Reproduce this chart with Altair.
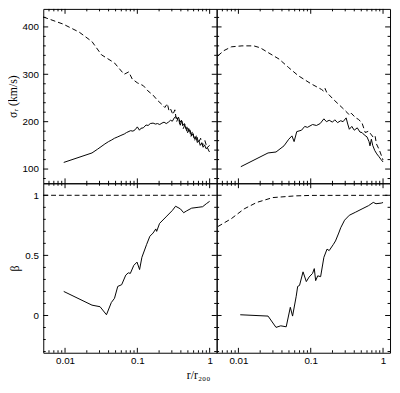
import altair as alt
import pandas as pd

# ---------------- data ----------------
# top-left panel: sigma_r
tl_solid_r = [0.0096, 0.0236, 0.0282, 0.0356, 0.040, 0.0437, 0.0483, 0.0537, 0.0593, 0.066, 0.0708,
              0.0807, 0.087, 0.0933, 0.100, 0.107, 0.112, 0.121, 0.132, 0.141, 0.151, 0.165, 0.178,
              0.190, 0.204, 0.219, 0.234, 0.251, 0.269, 0.288, 0.305, 0.324, 0.338, 0.355, 0.372,
              0.389, 0.407, 0.427, 0.447, 0.468, 0.490, 0.513, 0.537, 0.562, 0.589, 0.617, 0.646,
              0.676, 0.708, 0.741, 0.776, 0.813, 0.851, 0.891, 0.933, 0.977, 1.0]
tl_solid_s = [114, 134, 142, 153, 158, 161, 165, 168, 171, 174, 177,
              181, 180, 183, 189, 182, 186, 187, 193, 192, 196, 197, 195,
              196, 194, 197, 199, 196, 199, 203, 201, 208, 211, 206, 209,
              199, 203, 192, 196, 185, 188, 179, 182, 170, 174, 164, 168,
              156, 160, 150, 155, 146, 151, 143, 145, 138, 136]
tl_dash_r = [0.005, 0.0094, 0.0157, 0.0236, 0.032, 0.0483, 0.0656, 0.076, 0.085, 0.100, 0.121, 0.140,
             0.165, 0.190, 0.224, 0.240, 0.260, 0.275, 0.290, 0.310, 0.330, 0.350, 0.370, 0.390,
             0.410, 0.430, 0.460, 0.490, 0.520, 0.550, 0.580, 0.620, 0.660, 0.700, 0.750, 0.800,
             0.860, 0.920, 1.0]
tl_dash_s = [421, 406, 389, 369, 341, 324, 300, 305, 290, 282, 276, 265,
             256, 245, 235, 230, 238, 222, 226, 215, 225, 200, 210, 190,
             205, 185, 195, 175, 188, 168, 180, 160, 172, 155, 165, 150,
             160, 145, 150]

# top-right panel: sigma_r
tr_solid_r = [0.0108, 0.0257, 0.0331, 0.0427, 0.0497, 0.055, 0.0589, 0.0641, 0.0746, 0.0826, 0.090,
              0.106, 0.120, 0.135, 0.152, 0.165, 0.180, 0.200, 0.215, 0.235, 0.260, 0.280, 0.309,
              0.325, 0.342, 0.370, 0.400, 0.440, 0.480, 0.513, 0.550, 0.600, 0.640, 0.660, 0.690,
              0.720, 0.769, 0.820, 0.880, 0.940, 1.0]
tr_solid_s = [105, 134, 136, 149, 163, 170, 158, 179, 182, 190, 188,
              194, 192, 196, 206, 200, 203, 199, 204, 198, 202, 200, 208,
              195, 184, 190, 182, 187, 178, 177, 172, 168, 158, 149, 163,
              150, 139, 132, 126, 120, 115]
tr_dash_r = [0.0052, 0.0063, 0.008, 0.0112, 0.0163, 0.020, 0.0244, 0.0366, 0.0497, 0.0673, 0.101,
             0.141, 0.152, 0.158, 0.166, 0.206, 0.279, 0.316, 0.342, 0.363, 0.419, 0.457, 0.513,
             0.568, 0.631, 0.692, 0.733, 0.776, 0.811, 0.891, 1.0]
tr_dash_s = [339, 350, 358, 360, 360, 356, 348, 332, 314, 297, 280,
             268, 264, 270, 262, 247, 228, 220, 214, 218, 208, 205, 197,
             177, 180, 172, 167, 170, 153, 140, 119]

# bottom-left panel: beta
bl_solid_r = [0.0096, 0.0236, 0.0305, 0.0374, 0.0437, 0.0483, 0.0536, 0.0607, 0.0692, 0.075, 0.080,
              0.0893, 0.099, 0.1074, 0.1156, 0.1346, 0.149, 0.165, 0.180, 0.185, 0.203, 0.249,
              0.305, 0.338, 0.394, 0.437, 0.480, 0.564, 0.692, 0.800, 0.900, 1.0]
bl_solid_b = [0.20, 0.086, 0.073, 0.006, 0.108, 0.143, 0.242, 0.256, 0.336, 0.355, 0.35,
              0.417, 0.444, 0.382, 0.484, 0.592, 0.659, 0.686, 0.72, 0.70, 0.766, 0.82,
              0.874, 0.909, 0.887, 0.855, 0.87, 0.893, 0.90, 0.905, 0.93, 0.95]
bl_dash_r = [0.005, 1.0]
bl_dash_b = [1.0, 1.0]

# bottom-right panel: beta
br_solid_r = [0.0106, 0.0257, 0.0331, 0.0385, 0.0458, 0.0522, 0.0561, 0.063, 0.066, 0.070, 0.0783,
              0.0869, 0.095, 0.106, 0.112, 0.117, 0.125, 0.137, 0.152, 0.168, 0.180, 0.206, 0.220,
              0.244, 0.260, 0.294, 0.342, 0.419, 0.513, 0.631, 0.733, 0.800, 0.944, 1.0]
br_solid_b = [0.006, -0.005, -0.099, -0.086, -0.094, 0.068, -0.005, 0.16, 0.242, 0.25, 0.363,
              0.282, 0.32, 0.35, 0.39, 0.29, 0.33, 0.323, 0.484, 0.552, 0.54, 0.592, 0.62,
              0.686, 0.73, 0.793, 0.834, 0.86, 0.887, 0.914, 0.941, 0.93, 0.935, 0.94]
br_dash_r = [0.0052, 0.008, 0.012, 0.018, 0.0299, 0.0608, 0.100, 1.2]
br_dash_b = [0.74, 0.806, 0.887, 0.941, 0.981, 0.995, 0.999, 1.0]

# axis ticks
x_major = [0.01, 0.1, 1]
x_minor = [0.006, 0.007, 0.008, 0.009, 0.02, 0.03, 0.04, 0.05, 0.06, 0.07, 0.08, 0.09,
           0.2, 0.3, 0.4, 0.5, 0.6, 0.7, 0.8, 0.9]
sig_major = [100, 200, 300, 400]
sig_minor = [80, 120, 140, 160, 180, 220, 240, 260, 280, 320, 340, 360, 380, 420]
beta_major = [0, 0.5, 1]
beta_minor = [-0.3, -0.2, -0.1, 0.1, 0.2, 0.3, 0.4, 0.6, 0.7, 0.8, 0.9]

X_DOMAIN = [0.005, 1.25]
SIG_DOMAIN = [70, 438]
BETA_DOMAIN = [-0.31, 1.1]

W = 177
H_TOP = 178
H_BOT = 173
MAJ = 5
MIN = 2.5

xscale = alt.Scale(type="log", domain=X_DOMAIN, nice=False)


def panel(solid_r, solid_v, dash_r, dash_v, ydomain, ymaj, yminor, h,
          xlabels, ylabels, ytitle, yfmt):
    yscale = alt.Scale(domain=ydomain, nice=False, zero=False)
    if xlabels:
        xaxis = alt.Axis(values=x_major, format="~g", ticks=False, domain=False, grid=False,
                         labelPadding=3, title=None, labelFlush=False)
    else:
        xaxis = None
    if ylabels:
        yaxis = alt.Axis(values=ymaj, format=yfmt, ticks=False, domain=False, grid=False,
                         labelPadding=5, title=ytitle, titlePadding=3)
    else:
        yaxis = None
    sdf = pd.DataFrame({"r": solid_r, "v": solid_v})
    ddf = pd.DataFrame({"r": dash_r, "v": dash_v})
    solid = alt.Chart(sdf).mark_line(color="black", strokeWidth=1).encode(
        x=alt.X("r:Q", scale=xscale, axis=xaxis),
        y=alt.Y("v:Q", scale=yscale, axis=yaxis),
    )
    dashed = alt.Chart(ddf).mark_line(color="black", strokeWidth=1, strokeDash=[5, 3]).encode(
        x=alt.X("r:Q", scale=xscale, axis=xaxis),
        y=alt.Y("v:Q", scale=yscale, axis=yaxis),
    )
    layers = [solid, dashed]
    for vals, L in ((x_major, MAJ), (x_minor, MIN)):
        base = alt.Chart(pd.DataFrame({"t": vals})).mark_rule(color="black", strokeWidth=1)
        xe = alt.X("t:Q", scale=xscale, axis=xaxis)
        layers.append(base.encode(x=xe, y=alt.value(h), y2=alt.value(h - L)))
        layers.append(base.encode(x=xe, y=alt.value(0), y2=alt.value(L)))
    for vals, L in ((ymaj, MAJ), (yminor, MIN)):
        base = alt.Chart(pd.DataFrame({"t": vals})).mark_rule(color="black", strokeWidth=1)
        ye = alt.Y("t:Q", scale=yscale, axis=yaxis)
        layers.append(base.encode(y=ye, x=alt.value(0), x2=alt.value(L)))
        layers.append(base.encode(y=ye, x=alt.value(W), x2=alt.value(W - L)))
    return alt.layer(*layers).properties(width=W, height=h)


tl = panel(tl_solid_r, tl_solid_s, tl_dash_r, tl_dash_s, SIG_DOMAIN, sig_major, sig_minor,
           H_TOP, False, True, "σᵣ (km/s)", "d")
tr = panel(tr_solid_r, tr_solid_s, tr_dash_r, tr_dash_s, SIG_DOMAIN, sig_major, sig_minor,
           H_TOP, False, False, None, "d")
bl = panel(bl_solid_r, bl_solid_b, bl_dash_r, bl_dash_b, BETA_DOMAIN, beta_major, beta_minor,
           H_BOT, True, True, "β", "~g")
br = panel(br_solid_r, br_solid_b, br_dash_r, br_dash_b, BETA_DOMAIN, beta_major, beta_minor,
           H_BOT, True, False, None, "~g")

chart = alt.concat(tl, tr, bl, br, columns=2, spacing=0, bounds="flush").properties(
    padding={"left": -3, "right": 0, "top": -4, "bottom": 0},
    title=alt.TitleParams("r/r₂₀₀", orient="bottom", anchor="middle", font="Liberation Serif",
                          fontSize=12, fontWeight="normal", color="black", offset=4),
).configure_view(stroke="black", strokeWidth=1).configure_axis(
    labelFont="Liberation Sans", labelFontSize=10, labelColor="black",
    titleFont="Liberation Serif", titleFontSize=12, titleFontWeight="normal", titleColor="black",
).configure_concat(spacing=0)

chart.save("out.html", embed_options={"renderer": "svg", "actions": False})
